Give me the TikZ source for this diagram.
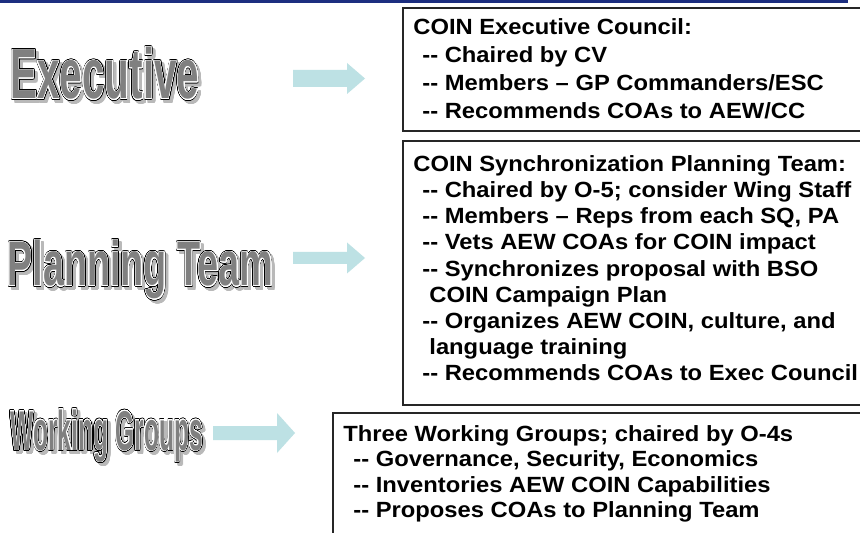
\documentclass[tikz,border=0pt]{standalone}
\usepackage{fontspec}
\setmainfont{Liberation Sans}[FakeStretch=1.08]
\newfontfamily\artfont{Liberation Sans}
\usepackage{graphicx}
\usepackage{contour}
\contournumber{24}

\definecolor{topblue}{RGB}{28,46,128}
\definecolor{arrowcyan}{RGB}{189,225,228}
\definecolor{artgray}{RGB}{128,128,128}
\definecolor{shadowgray}{RGB}{185,185,185}

\newcommand{\dd}{{-}{-}}
\newcommand{\artword}[2]{\scalebox{#1}[1]{\rlap{\contourlength{0.9pt}\contour{black}{#2}}\contourlength{0.45pt}\contour{white}{\textcolor{artgray}{#2}}}}
\newcommand{\artshadow}[2]{\scalebox{#1}[1]{\contourlength{0.9pt}\contour{shadowgray}{\textcolor{shadowgray}{#2}}}}

\tikzset{
  wordart/.style={anchor=base west, inner sep=0pt, font=\artfont\bfseries\fontsize{#1}{#1}\selectfont},
  infobox/.style={draw=black!85, line width=0.6pt},
  infotext/.style={anchor=north west, inner sep=0pt, align=left, font=\bfseries\fontsize{11pt}{#1}\selectfont},
}

\begin{document}
\begin{tikzpicture}[x=0.5pt,y=-0.5pt]
\useasboundingbox (0,0) rectangle (860,533);
\fill[white] (0,0) rectangle (860,533);
\fill[topblue] (0,0) rectangle (848,3);

% boxes
\draw[infobox] (403,8) rectangle (880,131);
\draw[infobox] (403,141) rectangle (880,405);
\draw[infobox] (333,413) rectangle (880,560);

\node[infotext=14pt] (exectext) at (413,18) {COIN Executive Council:\\
  \hspace*{4.5pt}\dd{} Chaired by CV\\
  \hspace*{4.5pt}\dd{} Members -- GP Commanders/ESC\\
  \hspace*{4.5pt}\dd{} Recommends COAs to AEW/CC};

\node[infotext=13.1pt] (plantext) at (413,155) {COIN Synchronization Planning Team:\\
  \hspace*{4.5pt}\dd{} Chaired by O-5; consider Wing Staff\\
  \hspace*{4.5pt}\dd{} Members -- Reps from each SQ, PA\\
  \hspace*{4.5pt}\dd{} Vets AEW COAs for COIN impact\\
  \hspace*{4.5pt}\dd{} Synchronizes proposal with BSO\\
  \hspace*{8pt}COIN Campaign Plan\\
  \hspace*{4.5pt}\dd{} Organizes AEW COIN, culture, and\\
  \hspace*{8pt}language training\\
  \hspace*{4.5pt}\dd{} Recommends COAs to Exec Council};

\node[infotext=12.75pt] (worktext) at (343,425) {Three Working Groups; chaired by O-4s\\
  \hspace*{5pt}\dd{} Governance, Security, Economics\\
  \hspace*{5pt}\dd{} Inventories AEW COIN Capabilities\\
  \hspace*{5pt}\dd{} Proposes COAs to Planning Team};

% level names
\node[wordart=35.5pt] (execshadow) at (13,102) {\artshadow{0.57}{Executive}};
\node[wordart=35.5pt] (execword) at (10,99) {\artword{0.57}{Executive}};
\node[wordart=31.5pt] (planshadow) at (10,289) {\artshadow{0.6}{Planning Team}};
\node[wordart=31.5pt] (planword) at (7,286) {\artword{0.6}{Planning Team}};
\node[wordart=28pt] (workshadow) at (13,453) {\artshadow{0.44}{Working Groups}};
\node[wordart=28pt] (workword) at (10,450) {\artword{0.44}{Working Groups}};

% block arrows
\foreach \xa/\xb/\xt/\yc/\sh/\hh in {293/347/365/78.5/8.5/15.5, 293/347/365/258/6/15.5, 213/277/295/433/7/20}
  \fill[arrowcyan] (\xa,\yc-\sh) -- (\xb,\yc-\sh) -- (\xb,\yc-\hh) -- (\xt,\yc)
    -- (\xb,\yc+\hh) -- (\xb,\yc+\sh) -- (\xa,\yc+\sh) -- cycle;
\end{tikzpicture}
\end{document}
